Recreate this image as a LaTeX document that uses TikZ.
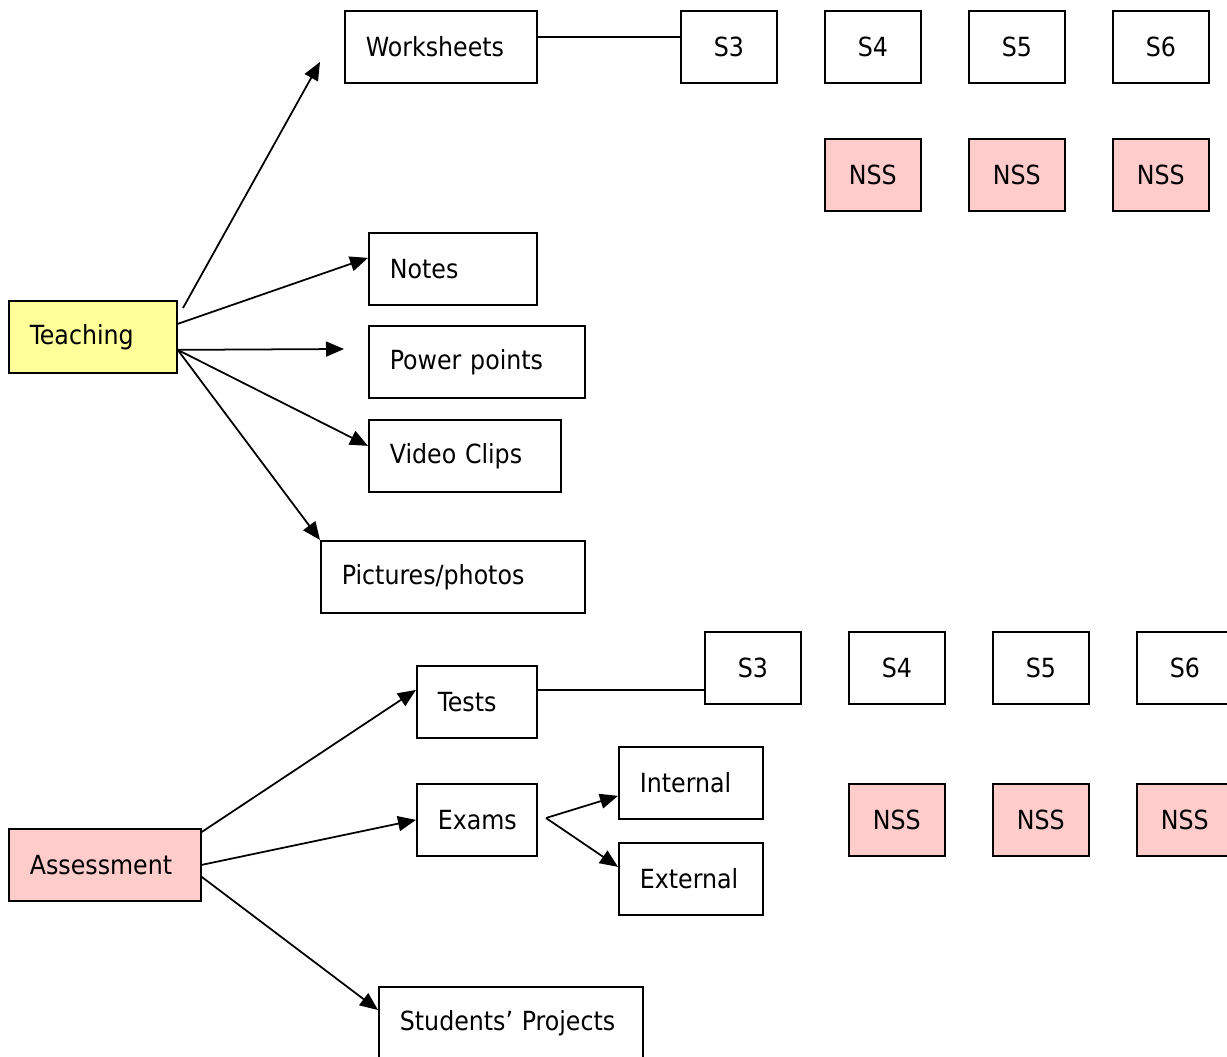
\documentclass[tikz,border=0pt]{standalone}
\usepackage{fontspec}
\setmainfont{DejaVu Sans Condensed}
\usetikzlibrary{arrows.meta}
\definecolor{teachyellow}{HTML}{FFFF99}
\definecolor{nsspink}{HTML}{FFCCCC}
\tikzset{
  box/.style={draw, line width=1pt, minimum height=1.44cm, inner ysep=0pt, anchor=north west, font=\fontsize{15}{17}\selectfont},
  lbox/.style={box, text width=#1, inner xsep=0.42cm, align=left},
  sbox/.style={box, minimum width=1.92cm},
  nss/.style={sbox, fill=nsspink},
  arr/.style={line width=1pt, -{Triangle[length=0.36cm, width=0.3cm]}},
  link/.style={line width=1pt}
}
\begin{document}
\begin{tikzpicture}[x=0.02cm, y=-0.02cm]
        \useasboundingbox (0,0) rectangle (1227,1057);
        \clip (0,0) rectangle (1227,1057);
        % teaching side
        \node[lbox=2.52cm, fill=teachyellow] (teach) at (8,300) {Teaching};
        \node[lbox=3.0cm] (ws) at (344,10) {Worksheets};
        \node[lbox=2.52cm] (notes) at (368,232) {Notes};
        \node[lbox=3.48cm] (pp) at (368,325) {Power points};
        \node[lbox=3.0cm] (video) at (368,419) {Video Clips};
        \node[lbox=4.44cm] (pics) at (320,540) {Pictures/photos};
        % worksheet levels
        \node[sbox] (s3a) at (680,10) {S3};
        \node[sbox] (s4a) at (824,10) {S4};
        \node[sbox] (s5a) at (968,10) {S5};
        \node[sbox] (s6a) at (1112,10) {S6};
        \node[nss] (nss4a) at (824,138) {NSS};
        \node[nss] (nss5a) at (968,138) {NSS};
        \node[nss] (nss6a) at (1112,138) {NSS};
        % assessment side
        \node[lbox=3.0cm, fill=nsspink] (assess) at (8,828) {Assessment};
        \node[lbox=1.56cm] (tests) at (416,665) {Tests};
        \node[lbox=1.56cm] (exams) at (416,783) {Exams};
        \node[lbox=2.04cm] (internal) at (618,746) {Internal};
        \node[lbox=2.04cm] (external) at (618,842) {External};
        \node[lbox=4.44cm] (proj) at (378,986) {Students’ Projects};
        % test levels
        \node[sbox] (s3b) at (704,631) {S3};
        \node[sbox] (s4b) at (848,631) {S4};
        \node[sbox] (s5b) at (992,631) {S5};
        \node[sbox] (s6b) at (1136,631) {S6};
        \node[nss] (nss4b) at (848,783) {NSS};
        \node[nss] (nss5b) at (992,783) {NSS};
        \node[nss] (nss6b) at (1136,783) {NSS};
        % free ends
        \coordinate (wsFoot) at (183,308);
        \coordinate (wsTip) at (320,62);
        \coordinate (ppTip) at (344,349);
        \coordinate (exSplit) at (546,818);
        % teaching arrows
        \draw[arr] (wsFoot) -- (wsTip);
        \draw[arr] ([yshift=0.26cm]teach.east) -- ([yshift=0.22cm]notes.west);
        \draw[arr] ([yshift=-0.26cm]teach.east) -- (ppTip);
        \draw[arr] ([yshift=-0.26cm]teach.east) -- ([yshift=0.2cm]video.west);
        \draw[arr] ([yshift=-0.26cm]teach.east) -- (pics.north west);
        \draw[link] ([yshift=0.19cm]ws.east) -- ([yshift=0.19cm]s3a.west);
        % assessment arrows
        \draw[arr] ([yshift=-0.08cm]assess.north east) -- ([yshift=0.24cm]tests.west);
        \draw[arr] (assess.east) -- (exams.west);
        \draw[arr] ([yshift=-0.24cm]assess.east) -- ([yshift=-0.48cm]proj.north west);
        \draw[link] ([yshift=0.24cm]tests.east) coordinate (tl) -- (tl -| s3b.west);
        \draw[arr] (exSplit) -- ([yshift=-0.26cm]internal.west);
        \draw[arr] (exSplit) -- ([yshift=0.24cm]external.west);
      \end{tikzpicture}
\end{document}
